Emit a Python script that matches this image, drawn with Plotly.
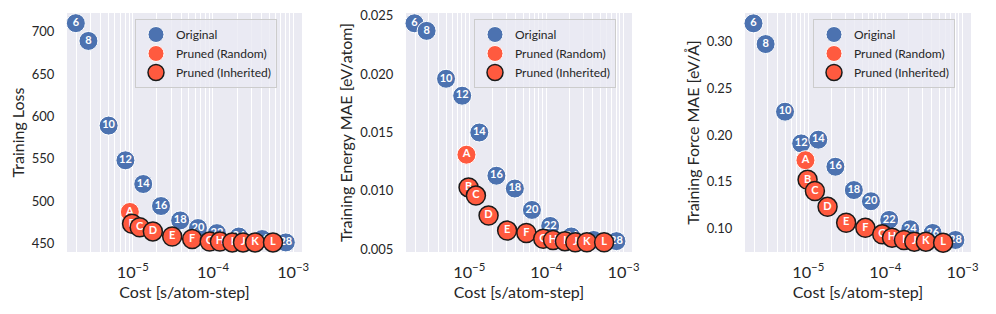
import plotly.graph_objects as go

# ---------------- data ----------------
orig_labels = ["6", "8", "10", "12", "14", "16", "18", "20", "22", "24", "26", "28"]
orig_cost = [1.95e-6, 2.8e-6, 5.0e-6, 8.1e-6, 1.35e-5, 2.25e-5, 3.9e-5, 6.5e-5, 1.12e-4, 2.1e-4, 4.1e-4, 8.1e-4]
orig_loss = [710, 689, 589, 548, 520, 494, 477, 468, 462, 458, 455, 451]
orig_energy = [0.02435, 0.0237, 0.0196, 0.01815, 0.0150, 0.0113, 0.0102, 0.00837, 0.0070, 0.0061, 0.0058, 0.0057]
orig_force = [0.3197, 0.2975, 0.225, 0.191, 0.195, 0.166, 0.141, 0.129, 0.109, 0.099, 0.095, 0.0875]

rand_labels = ["A"]
rand_cost = [9.2e-6]
rand_loss = [487]
rand_energy = [0.0131]
rand_force = [0.173]

inh_labels = ["B", "C", "D", "E", "F", "G", "H", "I", "J", "K", "L"]
inh_cost = [9.8e-6, 1.22e-5, 1.78e-5, 3.1e-5, 5.5e-5, 9.1e-5, 1.22e-4, 1.74e-4, 2.37e-4, 3.35e-4, 5.6e-4]
inh_loss = [473, 469, 464, 458, 455, 452, 452, 451, 451, 451, 451]
inh_energy = [0.0103, 0.0096, 0.0079, 0.0066, 0.0064, 0.0059, 0.0058, 0.0057, 0.0056, 0.0056, 0.0056]
inh_force = [0.152, 0.140, 0.123, 0.106, 0.1005, 0.0935, 0.090, 0.0875, 0.0857, 0.0857, 0.0846]

y_titles = ["Training Loss", "Training Energy MAE [eV/atom]", "Training Force MAE [eV/Å]"]
x_title = "Cost [s/atom-step]"

# ---------------- style ----------------
BLUE = "#4C72B0"
RED = "#FF5A3F"
BG = "#EAEAF2"
FONT = "Lato"
TXT = "#262626"
W, H = 996, 314

x_px = [(67, 302), (406, 632), (745, 971)]
y_px = (13, 252)
y_ranges = [[439.7, 722], [0.00477, 0.02523], [0.0746, 0.3308]]
y_ticks = [[450, 500, 550, 600, 650, 700],
           [0.005, 0.010, 0.015, 0.020, 0.025],
           [0.10, 0.15, 0.20, 0.25, 0.30]]
y_fmt = ["d", ".3f", ".2f"]
legend_x_px = [135, 474, 813]

series = [
    (orig_loss, rand_loss, inh_loss),
    (orig_energy, rand_energy, inh_energy),
    (orig_force, rand_force, inh_force),
]

fig = go.Figure()
txtfont = dict(family=FONT, size=11, color="white", weight="bold")
MS = 19

for k in range(3):
    xa = "x" if k == 0 else f"x{k+1}"
    ya = "y" if k == 0 else f"y{k+1}"
    leg = "legend" if k == 0 else f"legend{k+1}"
    o, r, inh = series[k]
    fig.add_trace(go.Scatter(
        x=orig_cost, y=o, text=orig_labels, mode="markers+text",
        marker=dict(size=MS, color=BLUE, line=dict(color="white", width=1)),
        textfont=txtfont, textposition="middle center",
        name="Original", xaxis=xa, yaxis=ya, legend=leg, cliponaxis=False,
    ))
    fig.add_trace(go.Scatter(
        x=rand_cost, y=r, text=rand_labels, mode="markers+text",
        marker=dict(size=MS, color=RED, line=dict(color="white", width=1)),
        textfont=txtfont, textposition="middle center",
        name="Pruned (Random)", xaxis=xa, yaxis=ya, legend=leg, cliponaxis=False,
    ))
    for i in range(len(inh_labels)):
        fig.add_trace(go.Scatter(
            x=[inh_cost[i]], y=[inh[i]], text=[inh_labels[i]], mode="markers+text",
            marker=dict(size=MS, color=RED, line=dict(color="#1a1a1a", width=1.5)),
            textfont=txtfont, textposition="middle center",
            name="Pruned (Inherited)", legendgroup=f"inh{k}", showlegend=(i == 0),
            xaxis=xa, yaxis=ya, legend=leg, cliponaxis=False,
        ))

layout = dict(
    width=W, height=H, margin=dict(l=0, r=0, t=0, b=0, autoexpand=False),
    paper_bgcolor="white", plot_bgcolor=BG,
    font=dict(family=FONT, size=13, color=TXT),
)

for k in range(3):
    xs = "xaxis" if k == 0 else f"xaxis{k+1}"
    ys = "yaxis" if k == 0 else f"yaxis{k+1}"
    ya_ref = "y" if k == 0 else f"y{k+1}"
    xa_ref = "x" if k == 0 else f"x{k+1}"
    layout[xs] = dict(
        type="log", range=[-5.82, -2.89], domain=[x_px[k][0] / W, x_px[k][1] / W],
        anchor=ya_ref, dtick=1, exponentformat="power", automargin=False,
        showgrid=True, gridcolor="white", gridwidth=1,
        minor=dict(showgrid=True, gridcolor="white", gridwidth=0.8),
        zeroline=False, showline=False, ticks="outside", ticklen=6, tickcolor="rgba(0,0,0,0)",
        tickfont=dict(family=FONT, size=13, color=TXT),
        title=dict(text=x_title, font=dict(family=FONT, size=16, color=TXT), standoff=6),
    )
    layout[ys] = dict(
        range=y_ranges[k], domain=[1 - y_px[1] / H, 1 - y_px[0] / H],
        anchor=xa_ref, tickvals=y_ticks[k], tickformat=y_fmt[k], automargin=False,
        showgrid=False, zeroline=False, showline=False,
        ticks="outside", ticklen=9, tickcolor="rgba(0,0,0,0)",
        tickfont=dict(family=FONT, size=13, color=TXT),
        title=dict(text=y_titles[k], font=dict(family=FONT, size=16, color=TXT), standoff=3),
    )
    lg = "legend" if k == 0 else f"legend{k+1}"
    layout[lg] = dict(
        x=legend_x_px[k] / W, y=1 - 19 / H, xanchor="left", yanchor="top",
        bgcolor="rgba(234,234,242,0.8)", bordercolor="#CCCCCC", borderwidth=1,
        font=dict(family=FONT, size=12, color=TXT),
        itemsizing="trace", tracegroupgap=0,
    )

fig.update_layout(**layout)
fig.write_html("out.html", config={"displayModeBar": False},
               post_script="document.body.style.margin='0';")
